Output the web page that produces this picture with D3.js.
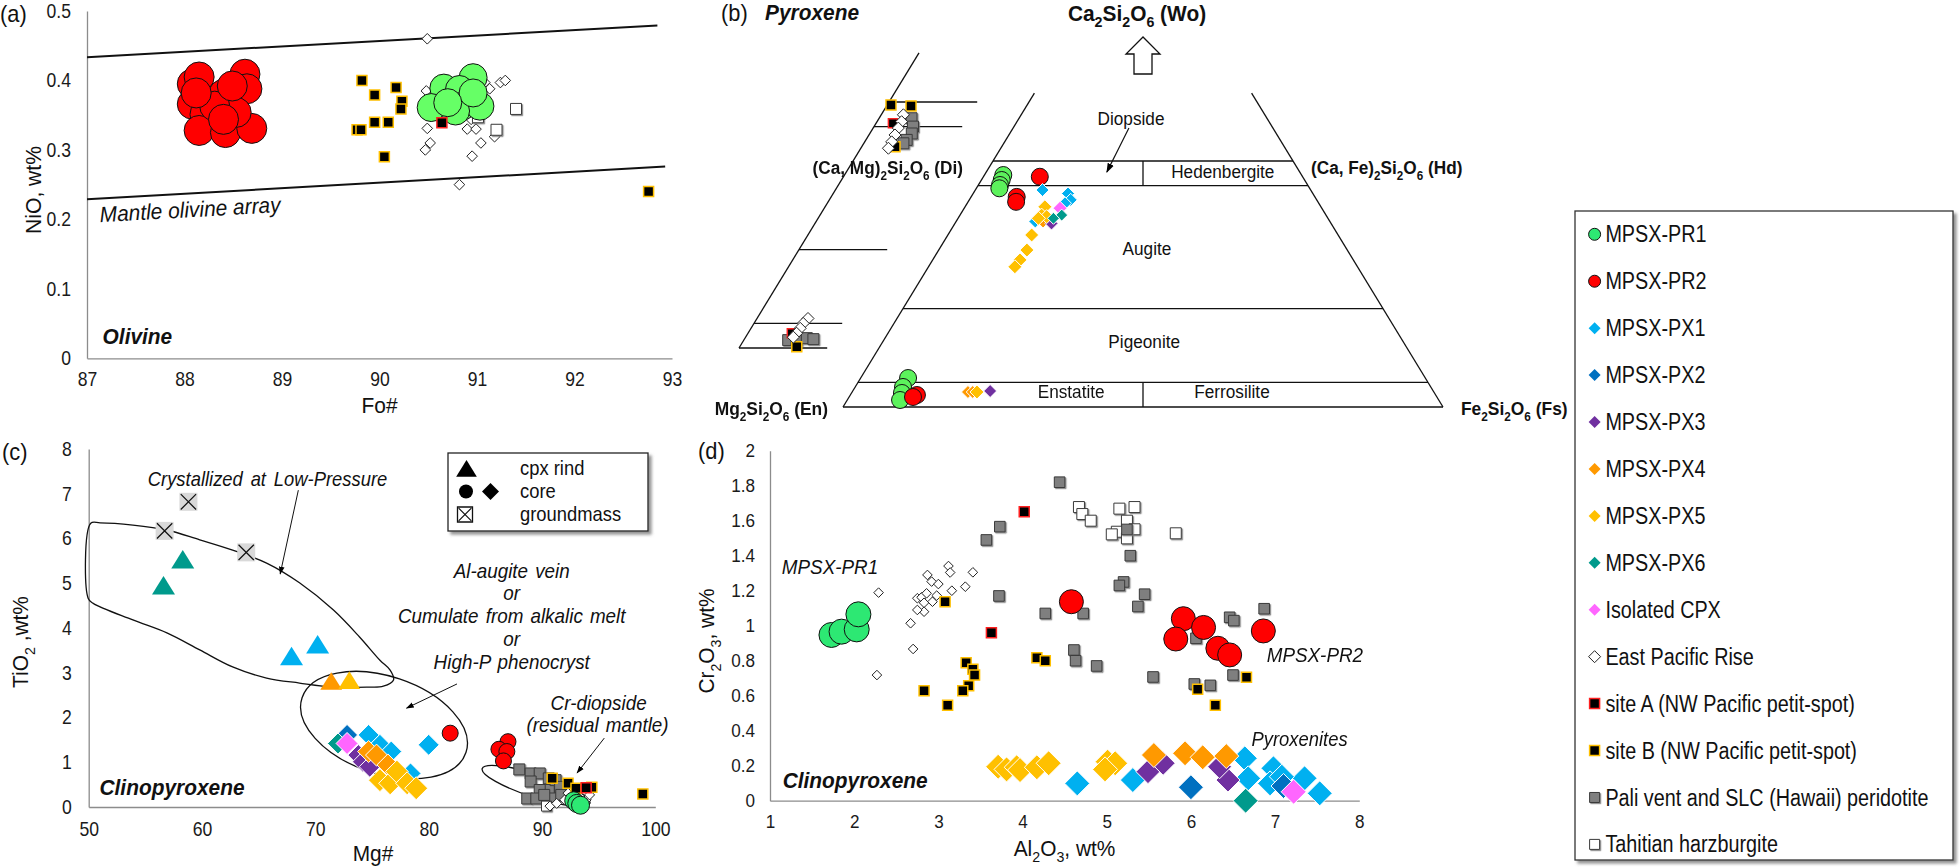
<!DOCTYPE html>
<html><head><meta charset="utf-8">
<script src="https://cdn.jsdelivr.net/npm/d3@7/dist/d3.min.js"></script>
<style>html,body{margin:0;padding:0;background:#fff;}svg{display:block;font-family:'Liberation Sans',Arial,Helvetica,sans-serif;}</style>
</head><body>
<svg id="fig" width="1960" height="868" xmlns="http://www.w3.org/2000/svg"></svg>
<script>
// ================= DATA =================
// (a) Olivine: [Fo#, NiO wt%]
const aXTicks=[87,88,89,90,91,92,93];
const aYTicks=[0,0.1,0.2,0.3,0.4,0.5];
const aPR2=[[88.08,0.395],[88.15,0.405],[88.62,0.409],[88.64,0.388],[88.40,0.380],[88.08,0.366],[88.21,0.351],[88.15,0.328],[88.42,0.325],[88.69,0.331],[88.53,0.354],[88.31,0.363],[88.49,0.392],[88.12,0.382],[88.40,0.344]];
const aPR1=[[90.96,0.404],[90.66,0.389],[90.82,0.387],[90.53,0.361],[90.85,0.363],[91.03,0.363],[90.78,0.356],[90.96,0.382],[90.70,0.368]];
const aEPR=[[90.49,0.460],[90.48,0.385],[90.49,0.331],[90.52,0.310],[90.47,0.300],[90.90,0.330],[90.99,0.330],[90.95,0.291],[91.04,0.310],[91.18,0.319],[90.82,0.250],[91.13,0.388],[91.24,0.397],[91.29,0.400],[90.94,0.344],[91.08,0.397]];
const aTahiti=[[91.40,0.359],[91.20,0.329],[91.01,0.347]];
const aSiteA=[[90.64,0.339]];
const aSiteB=[[89.82,0.400],[90.17,0.390],[89.95,0.379],[90.23,0.370],[90.22,0.359],[89.95,0.340],[90.09,0.340],[89.77,0.329],[89.81,0.329],[90.05,0.290],[92.76,0.240]];
const aArrayUpper=[[87,0.4335],[92.85,0.479]];
const aArrayLower=[[87,0.229],[92.93,0.276]];

// (b) Pyroxene quadrilateral: [Wo, Fs] in mol% (En = 100 - Wo - Fs)
const bLevels=[0,5,20,45,50];
const bPR1=[[47.15,3.14],[46.14,3.38],[45.12,3.61],[44.45,3.83],[5.89,7.9],[4.07,7.97],[2.85,8.4],[1.42,8.8]];
const bPR2=[[46.8,9.4],[42.7,7.6],[41.7,8.0],[2.44,11.1],[2.03,10.65]];
const bPX1=[[44.1,11.2],[43.4,15.8],[42.1,16.9],[41.4,16.3],[37.7,13.2]];
const bPX3=[[37.3,16.1],[3.25,22.9]];
const bPX4=[[37.7,14.5],[3.05,19.3],[3.05,20.1]];
const bPX5=[[40.7,13.3],[39.0,13.6],[38.7,14.6],[38.35,13.4],[34.96,13.97],[31.9,14.7],[29.9,14.55],[28.5,14.4],[3.05,20.8]];
const bPX6=[[39.0,16.95],[38.35,15.9]];
const bISO=[[40.4,15.97]];
const bInEPR=[[47.4,3.7],[46.0,4.1],[44.7,4.2],[43.3,4.35],[41.9,4.5],[40.6,4.6],[6.0,8.5],[5.0,8.2],[4.0,8.2],[3.0,8.1],[2.2,7.95]];
const bInPali=[[46.7,5.4],[45.0,6.5],[43.6,7.0],[42.3,6.8],[41.6,6.6],[1.6,7.4],[1.6,8.8],[2.0,10.3],[1.8,11.5]];
const bInSiteA=[[45.7,2.8],[3.0,7.3]];
const bInSiteB=[[49.4,0.63],[49.2,4.07],[40.9,5.55],[0.26,9.5]];

// (c) Clinopyroxene: [Mg#, TiO2 wt%]
const cXTicks=[50,60,70,80,90,100];
const cYTicks=[0,1,2,3,4,5,6,7,8];
const cGround=[[58.8,6.82],[56.7,6.17],[63.9,5.69]];
const cRindPX6=[[58.3,5.52],[56.6,4.94]];
const cRindPX1=[[67.9,3.36],[70.2,3.62]];
const cRindPX4=[[71.4,2.80]];
const cRindPX5=[[73.0,2.82]];
const cPR2=[[81.9,1.65],[87.0,1.46],[86.2,1.29],[86.9,1.24],[86.6,1.03]];
const cPR1=[[92.8,0.14],[93.07,0.08],[93.4,0.04]];
const cPX1=[[74.7,1.61],[75.7,1.39],[76.7,1.24],[78.4,0.75],[80.0,1.39]];
const cPX2=[[72.8,1.61]];
const cPX3=[[73.8,1.16],[74.2,1.01],[74.8,0.90]];
const cPX4=[[74.7,1.24],[75.4,1.16],[76.4,0.94]];
const cPX5=[[75.7,0.60],[76.6,0.53],[77.2,0.79],[78.1,0.53],[78.9,0.42]];
const cPX6=[[72.0,1.42]];
const cISO=[[72.8,1.42]];
const cPali=[[88.0,0.84],[89.0,0.75],[89.8,0.75],[89.0,0.57],[90.6,0.64],[90.6,0.38],[89.8,0.38],[91.2,0.60],[91.6,0.45],[90.9,0.19],[88.7,0.19],[89.5,0.19],[91.7,0.27],[90.2,0.27]];
const cSiteB=[[90.9,0.64],[92.3,0.53],[93.0,0.42],[94.4,0.44],[98.9,0.29]];
const cSiteA=[[93.9,0.43]];
const cEPR=[[90.7,0.02],[91.3,0.08],[92.0,0.16],[92.3,0.31],[93.9,0.16],[94.2,0.27]];
const cTahiti=[[90.4,0.02]];
const cLowP=[[50.18,6.34],[49.96,4.66],[50.4,4.55],[53.9,4.18],[56.9,3.89],[59.8,3.51],[62.7,3.13],[65.7,2.88],[68.6,2.77],[71.6,2.68],[74.6,2.68],[76.0,2.70],[76.9,2.84],[76.6,3.06],[75.7,3.28],[73.9,3.80],[71.6,4.40],[68.6,5.01],[65.7,5.45],[62.7,5.74],[59.8,5.97],[56.9,6.19],[53.9,6.30],[51.0,6.35]];

// (d) Clinopyroxene: [Al2O3 wt%, Cr2O3 wt%]
const dXTicks=[1,2,3,4,5,6,7,8];
const dYTicks=[0,0.2,0.4,0.6,0.8,1,1.2,1.4,1.6,1.8,2];
const dPR1=[[1.73,0.947],[1.85,0.966],[2.03,0.979],[2.05,1.065]];
const dPR2=[[4.58,1.137],[5.91,1.04],[6.15,0.99],[5.82,0.924],[6.32,0.871],[6.46,0.833],[6.86,0.97]];
const dPali=[[4.44,1.82],[3.73,1.566],[3.57,1.49],[3.72,1.17],[4.27,1.07],[4.72,1.07],[4.61,0.861],[4.63,0.80],[4.88,0.77],[5.24,1.55],[5.28,1.40],[5.20,1.25],[5.15,1.23],[5.45,1.18],[5.37,1.11],[5.55,0.707],[6.04,0.667],[6.23,0.659],[6.06,0.928],[6.46,1.048],[6.51,1.029],[6.87,1.097],[6.50,0.718]];
const dTahiti=[[4.67,1.678],[4.71,1.638],[4.81,1.60],[5.15,1.669],[5.33,1.678],[5.24,1.60],[5.33,1.551],[5.12,1.537],[5.06,1.522],[5.24,1.499],[5.82,1.528]];
const dSiteA=[[4.02,1.651],[3.63,0.96]];
const dSiteB=[[3.08,1.137],[2.83,0.629],[3.11,0.545],[3.33,0.789],[3.41,0.751],[3.43,0.718],[3.36,0.657],[3.29,0.629],[4.17,0.817],[4.27,0.80],[6.08,0.637],[6.29,0.545],[6.66,0.705]];
const dEPR=[[2.29,1.189],[2.27,0.718],[2.67,1.014],[2.70,0.867],[2.75,1.157],[2.80,1.162],[2.83,1.131],[2.86,1.185],[2.83,1.08],[2.75,1.09],[2.87,1.29],[2.92,1.252],[2.98,1.172],[3.0,1.238],[2.93,1.137],[3.12,1.341],[3.14,1.304],[3.16,1.20],[3.32,1.223],[3.41,1.305]];
const dPX5=[[3.71,0.194],[3.81,0.179],[3.93,0.191],[3.97,0.175],[4.17,0.191],[4.31,0.214],[5.01,0.223],[5.10,0.214],[4.98,0.179]];
const dPX1=[[4.65,0.099],[5.31,0.118],[6.64,0.242],[6.68,0.128],[6.98,0.185],[6.94,0.099],[7.35,0.128],[7.53,0.042],[7.08,0.137]];
const dPX3=[[5.49,0.166],[5.67,0.214],[6.44,0.118],[6.34,0.194]];
const dPX4=[[5.56,0.261],[5.93,0.271],[6.14,0.248],[6.42,0.255]];
const dPX2=[[6.0,0.077],[7.10,0.084]];
const dPX6=[[6.65,0.0]];
const dISO=[[7.22,0.051]];

// Legend
const legendKeys=["PR1","PR2","PX1","PX2","PX3","PX4","PX5","PX6","ISO","EPR","SA","SB","PALI","TAH"];
const legendNames=["MPSX-PR1","MPSX-PR2","MPSX-PX1","MPSX-PX2","MPSX-PX3","MPSX-PX4","MPSX-PX5","MPSX-PX6","Isolated CPX","East Pacific Rise","site A (NW Pacific petit-spot)","site B (NW Pacific petit-spot)","Pali vent and SLC (Hawaii) peridotite","Tahitian harzburgite"];

// ================= STYLES & HELPERS =================
const STY={
  PR1:{type:"circle",fill:"#2de873",stroke:"#111",sw:1},
  PR2:{type:"circle",fill:"#ff0000",stroke:"#111",sw:1},
  PX1:{type:"diamond",fill:"#00b0f0",stroke:"#fff",sw:1},
  PX2:{type:"diamond",fill:"#0070c0",stroke:"#fff",sw:1},
  PX3:{type:"diamond",fill:"#7030a0",stroke:"#fff",sw:1},
  PX4:{type:"diamond",fill:"#ff9900",stroke:"#fff",sw:1},
  PX5:{type:"diamond",fill:"#ffc000",stroke:"#fff",sw:1},
  PX6:{type:"diamond",fill:"#009a8c",stroke:"#fff",sw:1},
  ISO:{type:"diamond",fill:"#ff66ff",stroke:"#fff",sw:1},
  EPR:{type:"diamond",fill:"#fff",stroke:"#222",sw:1},
  SA:{type:"square",fill:"#000",stroke:"#ff2020",sw:1.5},
  SB:{type:"square",fill:"#000",stroke:"#ffc000",sw:1.5},
  PALI:{type:"square",fill:"#7f7f7f",stroke:"#3a3a3a",sw:1,shadow:true},
  TAH:{type:"square",fill:"#fff",stroke:"#3a3a3a",sw:1,shadow:true},
  GM:{type:"xbox",fill:"#d9d9d9",stroke:"none",sw:0}
};
const SHAPE={
  circle:s=>`M${-s},0A${s},${s} 0 1,0 ${s},0A${s},${s} 0 1,0 ${-s},0Z`,
  diamond:s=>`M0,${-s}L${s},0L0,${s}L${-s},0Z`,
  square:s=>`M${-s},${-s}H${s}V${s}H${-s}Z`,
  triangle:s=>`M0,${-s}L${s*1.15},${s*0.85}L${-s*1.15},${s*0.85}Z`,
  xbox:s=>`M${-s},${-s}H${s}V${s}H${-s}Z`
};
const svg=d3.select("#fig");
const defs=svg.append("defs");
defs.append("marker").attr("id","ah").attr("viewBox","0 0 10 10").attr("refX",9).attr("refY",5)
  .attr("markerWidth",8).attr("markerHeight",8).attr("orient","auto")
  .append("path").attr("d","M0,1.5L10,5L0,8.5Z").attr("fill","#000");
const flt=defs.append("filter").attr("id","sh").attr("x","-50%").attr("y","-50%").attr("width","200%").attr("height","200%");
flt.append("feDropShadow").attr("dx",1.2).attr("dy",1.2).attr("stdDeviation",0.6).attr("flood-color","#777").attr("flood-opacity",0.8);
const flt2=defs.append("filter").attr("id","boxsh").attr("x","-10%").attr("y","-10%").attr("width","120%").attr("height","120%");
flt2.append("feDropShadow").attr("dx",3).attr("dy",3).attr("stdDeviation",1.5).attr("flood-color","#666").attr("flood-opacity",0.7);

function plot(g,data,px,st,s,over={}){
  const o=Object.assign({},st,over);
  const sel=g.append("g");
  if(o.shadow) sel.attr("filter","url(#sh)");
  const items=sel.selectAll(null).data(data).join("g").attr("transform",d=>{const p=px(d);return `translate(${p[0]},${p[1]})`;});
  items.append("path").attr("d",SHAPE[o.type](s)).attr("fill",o.fill).attr("stroke",o.stroke).attr("stroke-width",o.sw);
  if(o.type==="xbox"){
    items.append("path").attr("d",`M${-s*0.85},${-s*0.85}L${s*0.85},${s*0.85}M${s*0.85},${-s*0.85}L${-s*0.85},${s*0.85}`).attr("stroke","#111").attr("stroke-width",1.2).attr("fill","none");
  }
  return sel;
}
function txt(g,x,y,parts,o={}){
  const size=o.size||18;
  const t=g.append("text")
    .attr("transform",`translate(${x},${y})${o.rot?` rotate(${o.rot})`:""}${o.sx&&o.sx!==1?` scale(${o.sx},1)`:""}`)
    .attr("font-size",size).attr("text-anchor",o.anchor||"start").attr("fill",o.fill||"#111");
  if(o.bold) t.attr("font-weight","bold");
  if(o.italic) t.attr("font-style","italic");
  if(o.ws) t.attr("word-spacing",o.ws);
  if(typeof parts==="string") parts=[parts];
  const shift=size*0.3; let low=false, first=true;
  parts.forEach(p=>{
    const sub=Array.isArray(p);
    const ts=t.append("tspan").text(sub?p[0]:p);
    let dy=first?size*0.35:0;
    if(sub&&!low){dy+=shift;low=true;} else if(!sub&&low){dy-=shift;low=false;}
    if(sub) ts.attr("font-size",size*0.68);
    if(dy) ts.attr("dy",dy.toFixed(2));
    first=false;
  });
  return t;
}
// style an axis; compress tick labels horizontally by sx (keeps anchor point)
function styleAxis(sel,size,sx){
  sel.attr("font-family",null).attr("font-size",size);
  sel.select(".domain").attr("stroke","#8c8c8c").attr("stroke-width",1.3);
  sel.selectAll(".tick line").remove();
  sel.selectAll(".tick text").attr("fill","#1a1a1a").each(function(){
    const t=d3.select(this); const x0=+t.attr("x")||0;
    t.attr("x",x0/sx).attr("transform",`scale(${sx},1)`);
  });
}
const numFmt=d=>String(+d.toFixed(1));

// ================= PANEL (a) =================
{
  const g=svg.append("g");
  const x=d3.scaleLinear().domain([87,93]).range([87,672]);
  const y=d3.scaleLinear().domain([0,0.5]).range([358.3,11]);
  g.append("g").attr("transform",`translate(0,${y(0)})`)
    .call(d3.axisBottom(x).tickValues(aXTicks).tickSize(0).tickSizeOuter(0).tickPadding(14).tickFormat(d3.format("d")))
    .call(s=>styleAxis(s,19.5,0.9));
  g.append("g").attr("transform",`translate(${x(87)},0)`)
    .call(d3.axisLeft(y).tickValues(aYTicks).tickSize(0).tickSizeOuter(0).tickPadding(16).tickFormat(numFmt))
    .call(s=>styleAxis(s,19.5,0.9));
  const line=d3.line().x(d=>x(d[0])).y(d=>y(d[1]));
  [aArrayUpper,aArrayLower].forEach(a=>g.append("path").attr("d",line(a)).attr("stroke","#111").attr("stroke-width",2).attr("fill","none"));
  const px=d=>[x(d[0]),y(d[1])];
  plot(g,aEPR,px,STY.EPR,5.3);
  plot(g,aTahiti,px,STY.TAH,5.5);
  plot(g,aPR2,px,STY.PR2,15);
  plot(g,aPR1,px,STY.PR1,14,{fill:"#66ff66"});
  plot(g,aSiteA,px,STY.SA,5);
  plot(g,aSiteB,px,STY.SB,5);
  txt(g,x(87.13),y(0.207),"Mantle olivine array",{size:22,italic:true,rot:-3.2,sx:0.95});
  txt(g,x(87.16),y(0.031),"Olivine",{size:22,italic:true,bold:true,sx:0.95});
  txt(g,(x(87)+x(93))/2,405,"Fo#",{size:22,anchor:"middle",sx:0.95});
  txt(g,33.5,190,"NiO, wt%",{size:22,anchor:"middle",rot:-90,sx:0.96});
  txt(g,0,14,"(a)",{size:23,sx:0.95});
}

// ================= PANEL (b) =================
{
  const g=svg.append("g");
  const woY=d3.scaleLinear().domain([0,100]).range([407,-85]);
  const tX=d3.scaleLinear().domain([0,100]).range([843,1443]);
  const tern=(wo,fs)=>[tX(fs+wo/2),woY(wo)];
  const inOff=[-104,-59];
  const ternIn=(wo,fs)=>{const p=tern(wo,fs);return [p[0]+inOff[0],p[1]+inOff[1]];};
  const seg=(a,b)=>g.append("line").attr("x1",a[0]).attr("y1",a[1]).attr("x2",b[0]).attr("y2",b[1]).attr("stroke","#111").attr("stroke-width",1.3);
  // main quadrilateral
  seg(tern(0,0),tern(63.8,0));
  seg(tern(0,100),tern(63.8,36.2));
  bLevels.forEach(w=>seg(tern(w,0),tern(w,100-w)));
  seg(tern(0,50),tern(5,47.5));
  seg(tern(45,27.5),tern(50,25));
  // inset (partial copy)
  seg(ternIn(0,0),ternIn(60,0));
  bLevels.forEach(w=>seg(ternIn(w,0),ternIn(w,14.7)));
  // Wo arrow
  const tip=tern(75,12.5);
  const arr=[[0,0],[-17,17],[-9,17],[-9,37],[9,37],[9,17],[17,17]].map(d=>[tip[0]+d[0],tip[1]-1+d[1]]);
  g.append("path").attr("d","M"+arr.join("L")+"Z").attr("fill","#fff").attr("stroke","#111").attr("stroke-width",1.3);
  // Diopside arrow
  const a0=tern(56.7,19.3), a1=tern(47.76,20.1);
  g.append("line").attr("x1",a0[0]).attr("y1",a0[1]).attr("x2",a1[0]).attr("y2",a1[1]).attr("stroke","#111").attr("stroke-width",1.2).attr("marker-end","url(#ah)");
  // inset data
  const pin=d=>ternIn(d[0],d[1]);
  plot(g,bInPali,pin,STY.PALI,5.5);
  plot(g,bInSiteA,pin,STY.SA,4.5);
  plot(g,bInSiteB,pin,STY.SB,5);
  plot(g,bInEPR,pin,STY.EPR,6);
  // main data
  const pm=d=>tern(d[0],d[1]);
  plot(g,bPR1,pm,STY.PR1,8.5,{fill:"#5cf25c"});
  plot(g,bPR2,pm,STY.PR2,8.5);
  plot(g,bPX1,pm,STY.PX1,6.5);
  plot(g,bPX4,pm,STY.PX4,6.5);
  plot(g,bPX3,pm,STY.PX3,6.5);
  plot(g,bPX5,pm,STY.PX5,7);
  plot(g,bISO,pm,STY.ISO,7);
  plot(g,bPX6,pm,STY.PX6,6);
  // labels
  const L=(wo,fs,s,o)=>{const p=tern(wo,fs);txt(g,p[0],p[1],s,Object.assign({size:18.5,anchor:"middle",sx:0.93},o||{}));};
  L(58.7,18.65,"Diopside");
  L(47.8,39.4,"Hedenbergite");
  L(32.3,34.5,"Augite");
  L(13.4,43.5,"Pigeonite");
  L(3.05,36.5,"Enstatite");
  L(3.05,63.3,"Ferrosilite");
  txt(g,1137,13,["Ca",["2"],"Si",["2"],"O",["6"]," (Wo)"],{size:22,bold:true,anchor:"middle",sx:0.95});
  txt(g,828,409,["Mg",["2"],"Si",["2"],"O",["6"]," (En)"],{size:18.5,bold:true,anchor:"end",sx:0.94});
  txt(g,1461,409,["Fe",["2"],"Si",["2"],"O",["6"]," (Fs)"],{size:18.5,bold:true,sx:0.94});
  txt(g,963,168,["(Ca, Mg)",["2"],"Si",["2"],"O",["6"]," (Di)"],{size:18.3,bold:true,anchor:"end",sx:0.94});
  txt(g,1311,168,["(Ca, Fe)",["2"],"Si",["2"],"O",["6"]," (Hd)"],{size:18.3,bold:true,sx:0.94});
  txt(g,721,13,"(b)",{size:23,sx:0.95});
  txt(g,765,12,"Pyroxene",{size:22,bold:true,italic:true,sx:0.95});
}

// ================= PANEL (c) =================
{
  const g=svg.append("g");
  const x=d3.scaleLinear().domain([50,100]).range([88.7,655.3]);
  const y=d3.scaleLinear().domain([0,8]).range([807,449]);
  g.append("g").attr("transform",`translate(0,${y(0)})`)
    .call(d3.axisBottom(x).tickValues(cXTicks).tickSize(0).tickSizeOuter(0).tickPadding(15).tickFormat(d3.format("d")))
    .call(s=>styleAxis(s,20,0.88));
  g.append("g").attr("transform",`translate(${x(50)},0)`)
    .call(d3.axisLeft(y).tickValues(cYTicks).tickSize(0).tickSizeOuter(0).tickPadding(17).tickFormat(d3.format("d")))
    .call(s=>styleAxis(s,20,0.88));
  // outlines
  const line=d3.line().x(d=>x(d[0])).y(d=>y(d[1])).curve(d3.curveCatmullRomClosed.alpha(0.5));
  g.append("path").attr("d",line(cLowP)).attr("fill","none").attr("stroke","#111").attr("stroke-width",1.3);
  const ell=(cx,cy,rx,ry,rot)=>g.append("ellipse").attr("transform",`translate(${x(cx)},${y(cy)}) rotate(${rot})`)
    .attr("rx",rx).attr("ry",ry).attr("fill","none").attr("stroke","#111").attr("stroke-width",1.3);
  ell(76.06,1.83,86.4,48.7,18.5);
  ell(89.48,0.47,56.6,11.5,17.9);
  const arrow=(a,b)=>g.append("line").attr("x1",x(a[0])).attr("y1",y(a[1])).attr("x2",x(b[0])).attr("y2",y(b[1])).attr("stroke","#111").attr("stroke-width",1).attr("marker-end","url(#ah)");
  arrow([68.5,7.08],[66.9,5.21]);
  arrow([82.5,2.75],[78.05,2.21]);
  arrow([95.5,1.54],[93.1,0.76]);
  const px=d=>[x(d[0]),y(d[1])];
  plot(g,cGround,px,STY.GM,9);
  plot(g,cRindPX6,px,Object.assign({},STY.PX6,{type:"triangle",stroke:"none"}),10);
  plot(g,cRindPX1,px,Object.assign({},STY.PX1,{type:"triangle",stroke:"none"}),10);
  plot(g,cRindPX4,px,Object.assign({},STY.PX4,{type:"triangle",stroke:"none"}),9.5);
  plot(g,cRindPX5,px,Object.assign({},STY.PX5,{type:"triangle",stroke:"none"}),9.5);
  plot(g,cPali,px,STY.PALI,5.5);
  plot(g,cTahiti,px,STY.TAH,5);
  plot(g,cEPR,px,STY.EPR,5);
  plot(g,cSiteB,px,STY.SB,5);
  plot(g,cSiteA,px,STY.SA,5);
  plot(g,cPR2,px,STY.PR2,8);
  plot(g,cPR1,px,STY.PR1,9);
  plot(g,cPX1,px,STY.PX1,10.5);
  plot(g,cPX2,px,STY.PX2,10.5);
  plot(g,cPX6,px,STY.PX6,10.5);
  plot(g,cPX3,px,STY.PX3,10.5);
  plot(g,cPX4,px,STY.PX4,11);
  plot(g,cPX5,px,STY.PX5,11.5);
  plot(g,cISO,px,STY.ISO,11);
  // texts
  txt(g,x(65.78),y(7.33),"Crystallized at Low-Pressure",{size:20,italic:true,anchor:"middle",ws:3,sx:0.92});
  ["Al-augite vein","or","Cumulate from alkalic melt","or","High-P phenocryst"].forEach((s,i)=>
    txt(g,x(87.33),y([5.28,4.78,4.27,3.75,3.24][i]),s,{size:20.5,italic:true,anchor:"middle",ws:2,sx:0.92}));
  txt(g,x(95.0),y(2.32),"Cr-diopside",{size:20.5,italic:true,anchor:"middle",sx:0.92});
  txt(g,x(94.9),y(1.83),"(residual mantle)",{size:20.5,italic:true,anchor:"middle",ws:2,sx:0.92});
  txt(g,x(50.95),y(0.45),"Clinopyroxene",{size:22,italic:true,bold:true,sx:0.95});
  txt(g,373,853,"Mg#",{size:22,anchor:"middle",sx:0.95});
  txt(g,20.5,642,["TiO",["2"]," ,wt%"],{size:22,anchor:"middle",rot:-90,sx:0.95});
  txt(g,2,452,"(c)",{size:23,sx:0.95});
  // mini legend
  const lg=g.append("g");
  lg.append("rect").attr("x",448).attr("y",453).attr("width",200).attr("height",78).attr("fill","#fff").attr("stroke","#222").attr("stroke-width",1.3).attr("filter","url(#boxsh)");
  const blk={fill:"#000",stroke:"none",sw:0};
  plot(lg,[[0]],()=>[466.5,469],Object.assign({type:"triangle"},blk),9);
  plot(lg,[[0]],()=>[466,491.5],Object.assign({type:"circle"},blk),7);
  plot(lg,[[0]],()=>[490.5,491.5],Object.assign({type:"diamond"},blk),8.5);
  plot(lg,[[0]],()=>[465,514.5],{type:"xbox",fill:"#fff",stroke:"#111",sw:1.3},7.5);
  ["cpx rind","core","groundmass"].forEach((s,i)=>txt(lg,520,[468,491,514][i],s,{size:20,sx:0.92}));
}

// ================= PANEL (d) =================
{
  const g=svg.append("g");
  const x=d3.scaleLinear().domain([1,8]).range([770,1359.3]);
  const y=d3.scaleLinear().domain([0,2]).range([800.7,450.7]);
  g.append("g").attr("transform",`translate(0,${y(0)})`)
    .call(d3.axisBottom(x).tickValues(dXTicks).tickSize(0).tickSizeOuter(0).tickPadding(14).tickFormat(d3.format("d")))
    .call(s=>styleAxis(s,19,0.9));
  g.append("g").attr("transform",`translate(${x(1)},0)`)
    .call(d3.axisLeft(y).tickValues(dYTicks).tickSize(0).tickSizeOuter(0).tickPadding(15).tickFormat(numFmt))
    .call(s=>styleAxis(s,19,0.9));
  const px=d=>[x(d[0]),y(d[1])];
  plot(g,dEPR,px,STY.EPR,4.8);
  plot(g,dTahiti,px,STY.TAH,5.5);
  plot(g,dPali,px,STY.PALI,5.3);
  plot(g,dSiteA,px,STY.SA,5);
  plot(g,dSiteB,px,STY.SB,5);
  plot(g,dPR1,px,STY.PR1,12.5);
  plot(g,dPR2,px,STY.PR2,12);
  plot(g,dPX1,px,STY.PX1,12.5);
  plot(g,dPX5,px,STY.PX5,12.5);
  plot(g,dPX3,px,STY.PX3,12);
  plot(g,dPX4,px,STY.PX4,12.5);
  plot(g,dPX2,px,STY.PX2,12.5);
  plot(g,dPX6,px,STY.PX6,12.5);
  plot(g,dISO,px,STY.ISO,12.5);
  txt(g,x(1.14),y(1.335),"MPSX-PR1",{size:20.5,italic:true,sx:0.92});
  txt(g,x(6.90),y(0.833),"MPSX-PR2",{size:20.5,italic:true,sx:0.92});
  txt(g,x(6.72),y(0.353),"Pyroxenites",{size:20,italic:true,sx:0.92});
  txt(g,x(1.15),y(0.118),"Clinopyroxene",{size:22,italic:true,bold:true,sx:0.95});
  txt(g,1064.5,848,["Al",["2"],"O",["3"],", wt%"],{size:22,anchor:"middle",sx:0.95});
  txt(g,706.5,641,["Cr",["2"],"O",["3"],", wt%"],{size:22,anchor:"middle",rot:-90,sx:0.95});
  txt(g,698,451,"(d)",{size:23,sx:0.95});
}

// ================= LEGEND =================
{
  const g=svg.append("g");
  g.append("rect").attr("x",1575).attr("y",211).attr("width",378).attr("height",649).attr("fill","#fff").attr("stroke","#333").attr("stroke-width",1.3).attr("filter","url(#boxsh)");
  const ly=d3.scalePoint().domain(legendKeys).range([234.3,844.4]);
  legendKeys.forEach((k,i)=>{
    const st=STY[k];
    const s=st.type==="circle"?6:(st.type==="square"?5:6);
    const over=(st.type==="diamond"&&k!=="EPR")?{stroke:"none"}:{};
    plot(g,[[0]],()=>[1594.6,ly(k)],st,s,over);
    txt(g,1605.4,ly(k),legendNames[i],{size:23,sx:0.86});
  });
}
</script></body></html>
